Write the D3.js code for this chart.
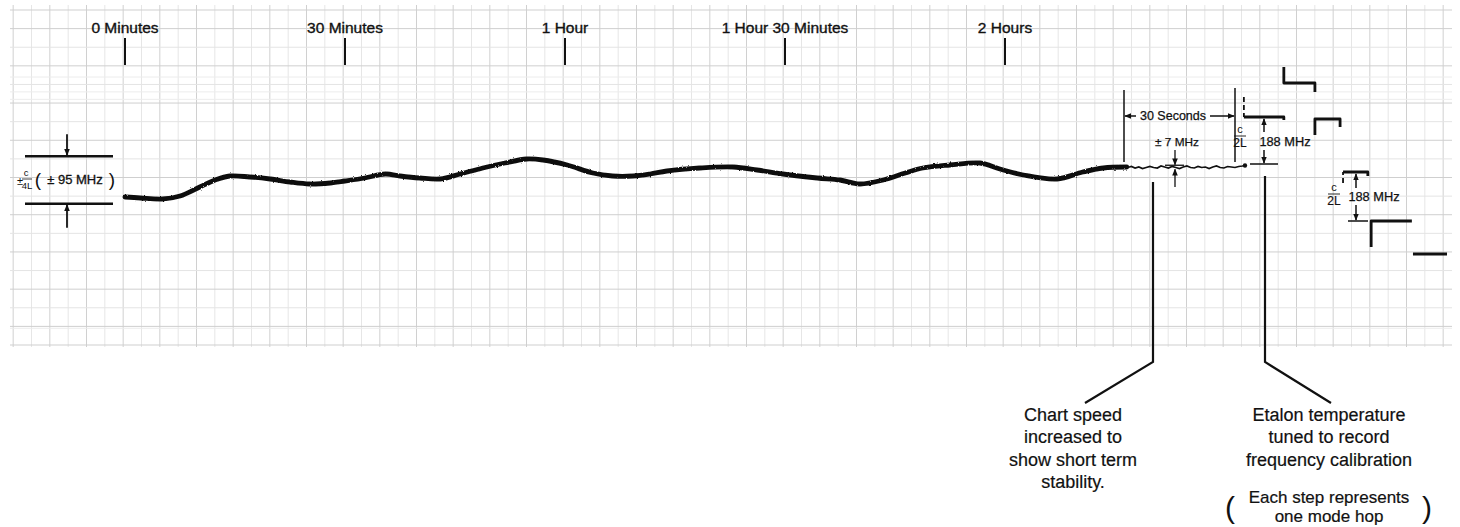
<!DOCTYPE html>
<html><head><meta charset="utf-8">
<script src="https://cdn.jsdelivr.net/npm/d3@7"></script>
<style>
body{margin:0;background:#fff}
svg{display:block;font-family:"Liberation Sans",Arial,Helvetica,sans-serif}
</style>
</head><body>
<svg id="chart" width="1460" height="527"></svg>
<script>
// ---------- DATA ----------
// Slow recording (time in minutes, frequency offset in MHz)
const slowMinutes = [0,2.1,5.1,7.5,10.2,12.3,14.3,17.0,19.8,22.5,25.2,28.0,30.0,32.7,35.5,37.5,40.2,43.0,45.7,48.8,51.8,54.8,57.0,60.3,63.8,66.5,69.3,71.6,73.9,78.4,82.9,86.2,89.7,94.4,97.5,100.2,103.4,106.4,108.8,112.5,116.6,119.3,122.5,127.1,130.6,133.4,136.6];
const slowMHz     = [-68,-72,-76,-64,-28,0,16,12,4,-8,-16,-12,-4,8,24,16,8,4,24,48,68,84,80,60,28,16,16,24,36,48,52,40,24,8,0,-16,0,28,48,60,68,44,20,4,32,48,52];
// Fast recording (time in seconds, frequency offset in MHz)
const fastSeconds = [0,1,2,3,4,5,6,7,8,9,10,11,12,13,14,15,16,17,18,19,20,21,22,23,24,25,26,27,28,29,30,31,32,32.7];
const fastMHz     = [52,50,54,48,52,46,50,54,50,48,56,52,48,54,50,46,52,56,50,48,54,50,52,46,52,56,50,48,54,52,50,54,56,58];
// Time axis labels
const timeTicks  = [0,30,60,90,120];
const timeLabels = ["0 Minutes","30 Minutes","1 Hour","1 Hour 30 Minutes","2 Hours"];
// Calibration steps (seconds, MHz): riser start level, flat level, tail level
const stepStart  = [43.2,32.4,51.6,59.2,66.8,78.1];
const stepEnd    = [51.6,43.2,58.4,65.9,77.8,87.3];
const stepLevel  = [388,252,244,32,-164,-296];
const stepRiseFrom = [452,332,180,-12,-268,null];
const stepTailTo   = [352,240,212,16,null,null];
// Annotation values
const bandMHz = 95;        // ±c/4L
const shortMHz = 7;        // ±7 MHz
const modeHopMHz = 188;    // c/2L

// ---------- SCALES ----------
const svg = d3.select("#chart");
const xMin = d3.scaleLinear().domain([0,30]).range([125,345]);      // minutes
const xSec = d3.scaleLinear().domain([0,30]).range([1124,1235]);    // seconds
const y    = d3.scaleLinear().domain([-660,700]).range([345,5]);    // MHz
const yDiv = d3.scaleLinear().domain([0,18]).range([345,10]);       // chart-paper divisions

// ---------- GRID ----------
const grid = svg.append("g");
const vT = d3.range(-15.25,181,2.5);
grid.selectAll("line.v").data(vT).join("line")
  .attr("x1",d=>xMin(d)).attr("x2",d=>xMin(d)).attr("y1",5).attr("y2",347)
  .attr("stroke",(d,i)=> (i%2===0)?"#d0d0d0":"#e6e6e6").attr("stroke-width",1);
const hD = d3.range(0,18.01,1);
grid.selectAll("line.h").data(hD).join("line")
  .attr("x1",10).attr("x2",1452).attr("y1",d=>yDiv(d)).attr("y2",d=>yDiv(d))
  .attr("stroke",d=> (d%2===1||d===0||d===18)?"#cfcfcf":"#e4e4e4").attr("stroke-width",1);
grid.selectAll("line.h2").data([13.2,13.6,14.4,0.9]).join("line")
  .attr("x1",10).attr("x2",1452).attr("y1",d=>yDiv(d)).attr("y2",d=>yDiv(d))
  .attr("stroke","#ececec").attr("stroke-width",1);

// ---------- DEFS ----------
const defs = svg.append("defs");
defs.append("marker").attr("id","ah").attr("viewBox","0 0 10 10")
  .attr("refX",9).attr("refY",5).attr("markerWidth",7).attr("markerHeight",7)
  .attr("markerUnits","userSpaceOnUse").attr("orient","auto")
  .append("path").attr("d","M0,1 L10,5 L0,9 Z").attr("fill","#111");
const f = defs.append("filter").attr("id","rough").attr("x","-5%").attr("y","-50%").attr("width","110%").attr("height","200%");
f.append("feTurbulence").attr("type","fractalNoise").attr("baseFrequency","0.6").attr("numOctaves",2).attr("seed",3).attr("result","n");
f.append("feDisplacementMap").attr("in","SourceGraphic").attr("in2","n").attr("scale",2.2);

const ink = "#111";
function line(x1,y1,x2,y2,w,dash){
  return svg.append("line").attr("x1",x1).attr("y1",y1).attr("x2",x2).attr("y2",y2)
    .attr("stroke",ink).attr("stroke-width",w||1.5).attr("stroke-dasharray",dash||null);
}
function arrow(x1,y1,x2,y2,w){ return line(x1,y1,x2,y2,w||1.5).attr("marker-end","url(#ah)"); }
function text(x,yy,s,size,anchor,heavy){
  return svg.append("text").attr("x",x).attr("y",yy).attr("font-size",size).attr("fill",ink)
    .attr("stroke",heavy?ink:null).attr("stroke-width",heavy||null)
    .attr("text-anchor",anchor||"middle").text(s);
}

// ---------- TIME LABELS ----------
timeTicks.forEach((t,i)=>{
  text(xMin(t),33,timeLabels[i],15.5,"middle",0.35);
  line(xMin(t),38,xMin(t),65,2);
});

// ---------- SLOW TRACE ----------
const slowPts = slowMinutes.map((t,i)=>[xMin(t),y(slowMHz[i])]);
svg.append("path").attr("d",d3.line().curve(d3.curveCatmullRom.alpha(0.5))(slowPts))
  .attr("fill","none").attr("stroke",ink).attr("stroke-width",4.8).attr("stroke-linecap","round")
  .attr("filter","url(#rough)");

// ---------- FAST TRACE ----------
const fastPts = fastSeconds.map((s,i)=>[xSec(s),y(fastMHz[i])]);
svg.append("path").attr("d",d3.line().curve(d3.curveLinear)(fastPts))
  .attr("fill","none").attr("stroke",ink).attr("stroke-width",1.7);
svg.append("circle").attr("cx",xSec(32.7)).attr("cy",y(58)).attr("r",2.2).attr("fill",ink);

// ---------- CALIBRATION STEPS ----------
const dashedRisers = new Set([1,3]);
stepStart.forEach((s,i)=>{
  const pts = [];
  if(stepRiseFrom[i]!==null) pts.push([xSec(s),y(stepRiseFrom[i])]);
  pts.push([xSec(s),y(stepLevel[i])]);
  pts.push([xSec(stepEnd[i]),y(stepLevel[i])]);
  if(stepTailTo[i]!==null) pts.push([xSec(stepEnd[i]),y(stepTailTo[i])]);
  if(dashedRisers.has(i) && stepRiseFrom[i]!==null){
    svg.append("line").attr("x1",xSec(s)).attr("x2",xSec(s)).attr("y1",y(stepRiseFrom[i])).attr("y2",y(stepLevel[i]))
      .attr("stroke",ink).attr("stroke-width",1.8).attr("stroke-dasharray","5,3");
    pts.shift();
  }
  svg.append("path").attr("d",d3.line().curve(d3.curveLinear)(pts))
    .attr("fill","none").attr("stroke",ink).attr("stroke-width",2.8).attr("stroke-linejoin","round");
});

// ---------- LEFT ANNOTATION (±c/4L) ----------
line(25,y(bandMHz),113,y(bandMHz),2.5);
line(25,y(-bandMHz),113,y(-bandMHz),2.5);
arrow(67,y(bandMHz)-22,67,y(bandMHz)-1,1.8);
arrow(67,y(-bandMHz)+24,67,y(-bandMHz)+1,1.8);
text(20,y(0)+5,"±",11);
text(26,y(0)-4,"c",9.5);
line(22,y(0)-1,32,y(0)-1,0.8);
text(27,y(0)+9,"4L",9.5);
text(38,y(0)+6,"(",19);
text(75,y(0)+4,"± 95 MHz",13,"middle",0.3);
text(112,y(0)+6,")",19);

// ---------- 30 SECONDS DIMENSION ----------
line(xSec(0),90,xSec(0),162,1.5);
line(xSec(30),88,xSec(30),162,1.5);
arrow(1136,116,xSec(0)+1,116,1.5);
arrow(1210,116,xSec(30)-1,116,1.5);
text(1173,120,"30 Seconds",12.5,"middle",0.25);

// ---------- ±7 MHz ----------
text(1177,146,"± 7 MHz",11.8,"middle",0.25);
arrow(1175,150,1175,y(52+shortMHz)-0.5,1.3);
line(1165,y(52+shortMHz),1184,y(52+shortMHz),1.3);
arrow(1175,187,1175,y(52-shortMHz)+0.5,1.3);

// ---------- c/2L 188 MHz (first) ----------
function c2L(cx,cy){
  text(cx,cy-4,"c",11);
  line(cx-6,cy-1,cx+6,cy-1,0.9);
  text(cx,cy+10,"2L",12,"middle",0.2);
}
c2L(1240,137);
text(1285,146,"188 MHz",12.8,"middle",0.25);
line(1250,y(252-modeHopMHz),1278,y(252-modeHopMHz),1.5);
arrow(1264,132,1264,y(252)+2,1.5);
arrow(1264,150,1264,y(252-modeHopMHz)-1,1.5);

// ---------- c/2L 188 MHz (second) ----------
c2L(1334,195);
text(1374,201,"188 MHz",12.8,"middle",0.25);
line(1348,y(-164),1368,y(-164),1.5);
arrow(1356,188,1356,y(32)+2,1.5);
arrow(1356,205,1356,y(-164)-1,1.5);

// ---------- LEADER LINES ----------
svg.append("path").attr("d",d3.line()([[1153,182],[1153,362],[1085,403]]))
  .attr("fill","none").attr("stroke",ink).attr("stroke-width",2.2);
svg.append("path").attr("d",d3.line()([[1265,176],[1265,362],[1331,403]]))
  .attr("fill","none").attr("stroke",ink).attr("stroke-width",2.2);

// ---------- BOTTOM TEXT ----------
["Chart speed","increased to","show short term","stability."].forEach((s,i)=>{
  text(1073,421+i*22.3,s,18,"middle",0.2);
});
["Etalon temperature","tuned to record","frequency calibration"].forEach((s,i)=>{
  text(1329,421+i*22.3,s,18,"middle",0.2);
});
["Each step represents","one mode hop"].forEach((s,i)=>{
  text(1329,503+i*18.5,s,17,"middle",0.2);
});
text(1230,518,"(",30);
text(1427,518,")",30);
</script>
</body></html>
